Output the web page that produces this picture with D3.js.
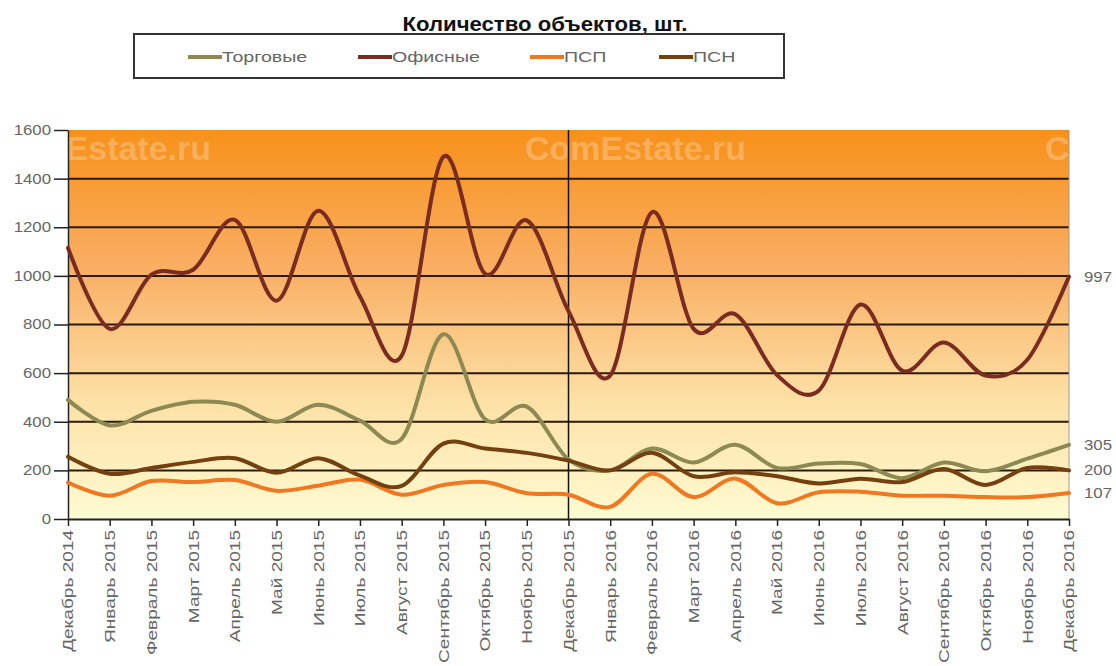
<!DOCTYPE html>
<html>
<head>
<meta charset="utf-8">
<script src="https://cdn.jsdelivr.net/npm/d3@7"></script>
<style>
  body { margin: 0; background: #fff; }
  svg { display: block; font-family: "Liberation Sans", Arial, sans-serif; }
</style>
</head>
<body>
<script>
const months = ["Декабрь 2014", "Январь 2015", "Февраль 2015", "Март 2015", "Апрель 2015", "Май 2015",
  "Июнь 2015", "Июль 2015", "Август 2015", "Сентябрь 2015", "Октябрь 2015", "Ноябрь 2015",
  "Декабрь 2015", "Январь 2016", "Февраль 2016", "Март 2016", "Апрель 2016", "Май 2016",
  "Июнь 2016", "Июль 2016", "Август 2016", "Сентябрь 2016", "Октябрь 2016", "Ноябрь 2016", "Декабрь 2016"];

const trade  = [490, 385, 445, 482, 470, 400, 470, 405, 330, 760, 410, 462, 245,
                200, 290, 232, 305, 210, 228, 226, 168, 232, 196, 248, 305];
const office = [1115, 782, 1005, 1025, 1230, 898, 1268, 915, 672, 1490, 1008, 1228, 855,
                590, 1262, 782, 842, 592, 528, 882, 610, 726, 590, 655, 997];
const psp    = [150, 96, 156, 152, 160, 116, 137, 162, 100, 140, 152, 106, 100,
                50, 186, 90, 166, 65, 110, 112, 96, 96, 90, 90, 107];
const psn    = [256, 186, 210, 235, 250, 190, 250, 178, 136, 310, 290, 272, 240,
                200, 272, 176, 192, 176, 146, 166, 152, 206, 140, 210, 200];

const yTicks = [0, 200, 400, 600, 800, 1000, 1200, 1400, 1600];

const series = [
  { name: "Торговые", values: trade,  color: "#8c8a52" },
  { name: "Офисные",  values: office, color: "#7a2c20" },
  { name: "ПСП",      values: psp,    color: "#f07822" },
  { name: "ПСН",      values: psn,    color: "#74400f" }
];

const width = 1116, height = 666;
const x = d3.scalePoint().domain(months).range([68, 1069]);
const y = d3.scaleLinear().domain([0, 1600]).range([519, 130]);

// stretch text along its run (reference glyphs are elongated)
function stretch(sel, k) {
  sel.each(function() {
    const len = this.getComputedTextLength();
    d3.select(this).attr("textLength", len * k).attr("lengthAdjust", "spacingAndGlyphs");
  });
}

const svg = d3.select("body").append("svg")
    .attr("width", width)
    .attr("height", height);

const defs = svg.append("defs");
const grad = defs.append("linearGradient")
    .attr("id", "bg").attr("x1", 0).attr("y1", 0).attr("x2", 0).attr("y2", 1);
grad.append("stop").attr("offset", "0%").attr("stop-color", "#f7911a");
grad.append("stop").attr("offset", "35%").attr("stop-color", "#f9ae62");
grad.append("stop").attr("offset", "70%").attr("stop-color", "#fde1a6");
grad.append("stop").attr("offset", "100%").attr("stop-color", "#fffbd2");

defs.append("clipPath").attr("id", "plotclip")
  .append("rect")
    .attr("x", x.range()[0]).attr("y", y(1600))
    .attr("width", x.range()[1] - x.range()[0]).attr("height", y(0) - y(1600));

// plot background
svg.append("rect")
    .attr("x", x.range()[0]).attr("y", y(1600))
    .attr("width", x.range()[1] - x.range()[0]).attr("height", y(0) - y(1600))
    .attr("fill", "url(#bg)");

// watermark
const wm = svg.append("g").attr("clip-path", "url(#plotclip)")
    .attr("fill", "#fff").attr("fill-opacity", 0.25)
    .attr("font-size", 34).attr("font-weight", "bold");
[-10, 525, 1045].forEach(px => {
  wm.append("text").attr("x", px).attr("y", 160).text("ComEstate.ru");
});

// grid
svg.append("g")
  .selectAll("line")
  .data(yTicks.filter(d => d > 0 && d < 1600))
  .join("line")
    .attr("x1", x.range()[0]).attr("x2", x.range()[1])
    .attr("y1", d => y(d)).attr("y2", d => y(d))
    .attr("stroke", "#2a1a08").attr("stroke-width", 2);

// right edge
svg.append("line")
    .attr("x1", x.range()[1]).attr("x2", x.range()[1])
    .attr("y1", y(1600)).attr("y2", y(0))
    .attr("stroke", "#9a9a9a").attr("stroke-width", 1);

// separator at Dec 2015
svg.append("line")
    .attr("x1", x("Декабрь 2015")).attr("x2", x("Декабрь 2015"))
    .attr("y1", y(1600)).attr("y2", y(0))
    .attr("stroke", "#111").attr("stroke-width", 1.5);

// axes
const yAxis = svg.append("g")
    .attr("transform", `translate(${x.range()[0]},0)`)
    .call(d3.axisLeft(y).tickValues(yTicks).tickFormat(d3.format("d"))
      .tickSize(14).tickPadding(3).tickSizeOuter(0));
yAxis.select(".domain").attr("stroke", "#222").attr("stroke-width", 1.5);
yAxis.selectAll(".tick line").attr("stroke", "#222").attr("stroke-width", 1.5).attr("x2", -14);
yAxis.selectAll("text").attr("font-size", 14).attr("fill", "#666")
    .attr("font-family", "Liberation Sans, Arial, sans-serif")
    .call(stretch, 1.2);

const xAxis = svg.append("g")
    .attr("transform", `translate(0,${y(0)})`)
    .call(d3.axisBottom(x).tickSize(7).tickSizeOuter(0).tickPadding(0));
xAxis.select(".domain").attr("stroke", "#222").attr("stroke-width", 2);
xAxis.selectAll(".tick line").attr("stroke", "#222").attr("stroke-width", 1.5);
xAxis.selectAll("text")
    .attr("font-size", 14).attr("fill", "#666")
    .attr("font-family", "Liberation Sans, Arial, sans-serif")
    .attr("text-anchor", "end")
    .attr("transform", "rotate(-90)")
    .attr("x", -11).attr("y", 0).attr("dy", "0.35em")
    .call(stretch, 1.36);

// lines
const line = d3.line()
    .x((d, i) => x(months[i]))
    .y(d => y(d))
    .curve(d3.curveCardinal.tension(0));

svg.append("g")
  .selectAll("path")
  .data(series)
  .join("path")
    .attr("d", d => line(d.values))
    .attr("fill", "none")
    .attr("stroke", d => d.color)
    .attr("stroke-width", 4)
    .attr("stroke-linejoin", "round")
    .attr("stroke-linecap", "round");

// end value labels
const endValues = [office, trade, psn, psp].map(v => v[v.length - 1]);
svg.append("g")
  .selectAll("text")
  .data(endValues)
  .join("text")
    .attr("x", 1084)
    .attr("y", d => y(d))
    .attr("dy", "0.35em")
    .attr("font-size", 14)
    .attr("fill", "#666")
    .text(d => d)
    .call(stretch, 1.2);

// title
svg.append("text")
    .attr("x", 545).attr("y", 31)
    .attr("text-anchor", "middle")
    .attr("font-size", 21).attr("font-weight", "bold")
    .attr("fill", "#111")
    .attr("textLength", 285).attr("lengthAdjust", "spacingAndGlyphs")
    .text("Количество объектов, шт.");

// legend
const legend = svg.append("g");
legend.append("rect")
    .attr("x", 134).attr("y", 34).attr("width", 650).attr("height", 44)
    .attr("fill", "#fff").attr("stroke", "#333").attr("stroke-width", 2);
const legX = [188, 358, 530, 659];
const item = legend.selectAll("g.item")
  .data(series)
  .join("g").attr("class", "item")
    .attr("transform", (d, i) => `translate(${legX[i]},57)`);
item.append("line")
    .attr("x1", 0).attr("x2", 34)
    .attr("stroke", d => d.color).attr("stroke-width", 4);
item.append("text")
    .attr("x", 34).attr("dy", "0.35em")
    .attr("font-size", 14).attr("fill", "#666")
    .text(d => d.name)
    .call(stretch, 1.4);
</script>
</body>
</html>
